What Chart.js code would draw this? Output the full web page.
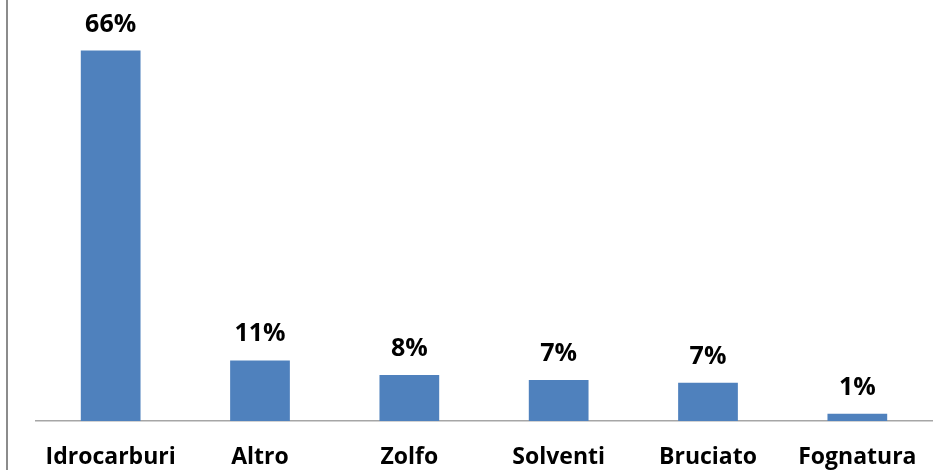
<!DOCTYPE html>
<html>
<head>
<meta charset="utf-8">
<script src="https://cdn.jsdelivr.net/npm/chart.js@4"></script>
<style>
html,body{margin:0;padding:0;background:#fff;}
#wrap{width:949px;height:470px;position:relative;}
</style>
</head>
<body>
<div id="wrap"><canvas id="c" width="949" height="470"></canvas></div>
<script>
const categories = ["Idrocarburi", "Altro", "Zolfo", "Solventi", "Bruciato", "Fognatura"];
const values = [66.0, 10.8, 8.2, 7.3, 6.8, 1.3];

const FONT = "'Open Sans', 'DejaVu Sans', sans-serif";

const frameLeft = {
  id: 'frameLeft',
  beforeDraw(chart) {
    const ctx = chart.ctx;
    ctx.save();
    ctx.strokeStyle = '#8c8c8c';
    ctx.lineWidth = 2;
    ctx.beginPath();
    ctx.moveTo(7, 0);
    ctx.lineTo(7, chart.height);
    ctx.stroke();
    ctx.restore();
  }
};

const valueLabels = {
  id: 'valueLabels',
  afterDatasetsDraw(chart) {
    const ctx = chart.ctx;
    const meta = chart.getDatasetMeta(0);
    ctx.save();
    ctx.font = "bold 25px " + FONT;
    ctx.fillStyle = '#000';
    ctx.textAlign = 'center';
    ctx.textBaseline = 'alphabetic';
    meta.data.forEach((bar, i) => {
      const v = chart.data.datasets[0].data[i];
      ctx.fillText(Math.round(v) + '%', bar.x, bar.y - 19);
    });
    ctx.restore();
  }
};

new Chart(document.getElementById('c'), {
  type: 'bar',
  data: {
    labels: categories,
    datasets: [{
      data: values,
      backgroundColor: '#4f81bd',
      borderWidth: 0,
      barPercentage: 0.4,
      categoryPercentage: 1.0
    }]
  },
  options: {
    responsive: false,
    animation: false,
    devicePixelRatio: 1,
    layout: { padding: { left: 36, right: 17, top: 0, bottom: 0 } },
    plugins: { legend: { display: false }, tooltip: { enabled: false } },
    scales: {
      x: {
        grid: { display: false, drawTicks: false },
        border: { display: true, color: '#a6a6a6', width: 1.5 },
        afterFit(axis) { axis.height = 49; },
        ticks: {
          color: '#000',
          font: { family: FONT, size: 23, weight: 'bold' },
          padding: 23,
          maxRotation: 0,
          autoSkip: false
        }
      },
      y: {
        display: false,
        min: 0,
        max: 75
      }
    }
  },
  plugins: [frameLeft, valueLabels]
});
</script>
</body>
</html>
